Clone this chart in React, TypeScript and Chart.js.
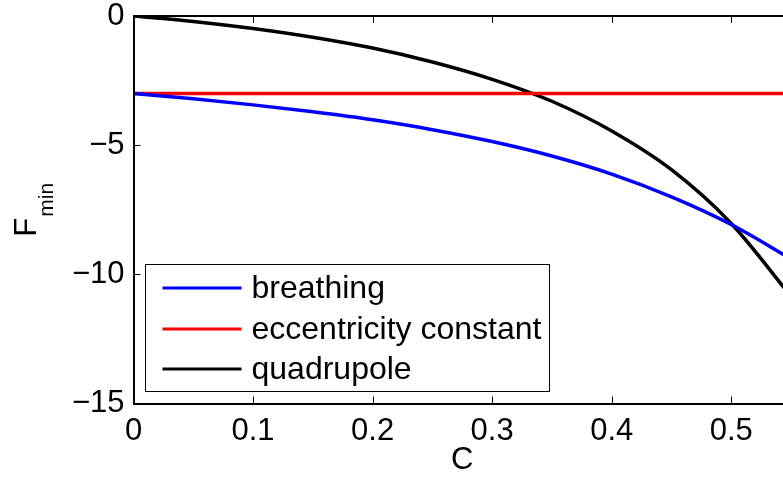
import React, { useEffect, useRef } from "react";
import { Chart, registerables } from "chart.js";

Chart.register(...registerables);

// ---- data ----
const cValues = [0, 0.05, 0.1, 0.15, 0.2, 0.25, 0.3, 0.35, 0.4, 0.45, 0.5, 0.55];
const breathing = [-3, -3.2, -3.44, -3.71, -4.02, -4.4, -4.86, -5.42, -6.12, -7.0, -8.07, -9.4];
const eccentricityConstant = [-3, -3, -3, -3, -3, -3, -3, -3, -3, -3, -3, -3];
const quadrupole = [0, -0.21, -0.48, -0.82, -1.24, -1.78, -2.45, -3.3, -4.45, -5.95, -8.03, -10.85];
const xTicks = [0, 0.1, 0.2, 0.3, 0.4, 0.5];
const yTicks = [0, -5, -10, -15];
const seriesLabels = ["breathing", "eccentricity constant", "quadrupole"];
const seriesColors = ["#0000ff", "#ff0000", "#000000"];
const xTitle = "C";
const yTitleMain = "F";
const yTitleSub = "min";

const FONT = "'Liberation Sans', Arial, Helvetica, sans-serif";

const toPoints = (ys: number[]) => cValues.map((x, i) => ({ x, y: ys[i] }));

const framePlugin = {
  id: "matlabFrame",
  afterDraw(chart: any) {
    const { ctx, chartArea } = chart;
    const { left, right, top, bottom } = chartArea;
    const xs = chart.scales.x;
    const ys = chart.scales.y;
    ctx.save();
    // frame
    ctx.strokeStyle = "#000";
    ctx.lineWidth = 2;
    ctx.strokeRect(Math.round(left), Math.round(top), Math.round(right) - Math.round(left), Math.round(bottom) - Math.round(top));
    // inward ticks
    ctx.lineWidth = 1;
    const tl = 7;
    ctx.beginPath();
    xTicks.forEach((v) => {
      const px = Math.round(xs.getPixelForValue(v)) + 0.5;
      ctx.moveTo(px, bottom);
      ctx.lineTo(px, bottom - tl);
      ctx.moveTo(px, top);
      ctx.lineTo(px, top + tl);
    });
    yTicks.forEach((v) => {
      const py = Math.round(ys.getPixelForValue(v)) + 0.5;
      ctx.moveTo(left, py);
      ctx.lineTo(left + tl, py);
      ctx.moveTo(right, py);
      ctx.lineTo(right - tl, py);
    });
    ctx.stroke();

    // y-axis title with subscript
    ctx.fillStyle = "#000";
    ctx.textBaseline = "alphabetic";
    ctx.textAlign = "left";
    ctx.font = `31px ${FONT}`;
    const wF = ctx.measureText(yTitleMain).width;
    ctx.font = `21px ${FONT}`;
    const wSub = ctx.measureText(yTitleSub).width;
    const total = wF + 1 + wSub;
    const cy = (top + bottom) / 2;
    ctx.save();
    ctx.translate(36, cy + total / 2);
    ctx.rotate(-Math.PI / 2);
    ctx.font = `31px ${FONT}`;
    ctx.fillText(yTitleMain, 0, 0);
    ctx.font = `21px ${FONT}`;
    ctx.fillText(yTitleSub, wF + 1, 17);
    ctx.restore();

    // legend box
    const datasets = chart.data.datasets;
    ctx.font = `32px ${FONT}`;
    let maxW = 0;
    datasets.forEach((d: any) => {
      maxW = Math.max(maxW, ctx.measureText(d.label).width);
    });
    const boxL = Math.round(left + 11) + 0.5;
    const boxB = Math.round(bottom - 13) + 0.5;
    const boxH = 127;
    const boxT = boxB - boxH;
    const textX = boxL + 106;
    const boxR = Math.round(textX + maxW + 8) + 0.5;
    ctx.fillStyle = "#fff";
    ctx.fillRect(boxL, boxT, boxR - boxL, boxH);
    ctx.strokeStyle = "#000";
    ctx.lineWidth = 1;
    ctx.strokeRect(boxL, boxT, boxR - boxL, boxH);
    const rowY = [23.5, 64.5, 104.5];
    datasets.forEach((d: any, i: number) => {
      const y = boxT + rowY[i];
      ctx.strokeStyle = d.borderColor;
      ctx.lineWidth = 3;
      ctx.beginPath();
      ctx.moveTo(boxL + 17, y);
      ctx.lineTo(boxL + 96, y);
      ctx.stroke();
      ctx.fillStyle = "#000";
      ctx.textBaseline = "middle";
      ctx.textAlign = "left";
      ctx.font = `32px ${FONT}`;
      ctx.fillText(d.label, textX, y + 1);
    });
    ctx.restore();
  },
};

export default function App() {
  const canvasRef = useRef<HTMLCanvasElement | null>(null);

  useEffect(() => {
    const canvas = canvasRef.current;
    if (!canvas) return;
    const seriesData = [breathing, eccentricityConstant, quadrupole];
    const chart = new Chart(canvas, {
      type: "line",
      data: {
        datasets: seriesData.map((ys, i) => ({
          label: seriesLabels[i],
          data: toPoints(ys),
          borderColor: seriesColors[i],
          backgroundColor: seriesColors[i],
          borderWidth: 3.5,
          pointRadius: 0,
          cubicInterpolationMode: "monotone" as const,
          fill: false,
        })),
      },
      options: {
        animation: false,
        responsive: false,
        devicePixelRatio: 1,
        layout: { padding: { top: 16, left: 0, right: 0, bottom: 0 } },
        plugins: {
          legend: { display: false },
          tooltip: { enabled: false },
          title: { display: false },
        },
        scales: {
          x: {
            type: "linear",
            min: 0,
            max: 0.55,
            grid: { display: false, drawTicks: false },
            border: { display: false },
            afterBuildTicks: (s: any) => {
              s.ticks = xTicks.map((v) => ({ value: v }));
            },
            afterFit: (s: any) => {
              s.height = 77.5;
              s.paddingLeft = 0;
              s.paddingRight = 0;
            },
            ticks: {
              autoSkip: false,
              maxRotation: 0,
              padding: 12,
              color: "#000",
              font: { family: FONT, size: 31, lineHeight: 1 },
              callback: (v: any) => String(Number(v)),
            },
            title: {
              display: true,
              text: xTitle,
              color: "#000",
              font: { family: FONT, size: 31, lineHeight: 1.2 },
              padding: { top: 0, bottom: 2 },
            },
          },
          y: {
            type: "linear",
            min: -15,
            max: 0,
            grid: { display: false, drawTicks: false },
            border: { display: false },
            afterBuildTicks: (s: any) => {
              s.ticks = yTicks.map((v) => ({ value: v }));
            },
            afterFit: (s: any) => {
              s.width = 133.5;
              s.paddingTop = 0;
              s.paddingBottom = 0;
            },
            ticks: {
              autoSkip: false,
              padding: 9,
              color: "#000",
              font: { family: FONT, size: 31, lineHeight: 1 },
              callback: (v: any) => (Number(v) < 0 ? "\u2212" + Math.abs(Number(v)) : String(Number(v))),
            },
          },
        },
      },
      plugins: [framePlugin],
    });
    return () => chart.destroy();
  }, []);

  return (
    <div
      style={{
        position: "fixed",
        left: 0,
        top: 0,
        width: 783,
        height: 481,
        overflow: "hidden",
        background: "#fff",
      }}
    >
      <canvas ref={canvasRef} width={791} height={481} style={{ display: "block", width: 791, height: 481 }} />
    </div>
  );
}
